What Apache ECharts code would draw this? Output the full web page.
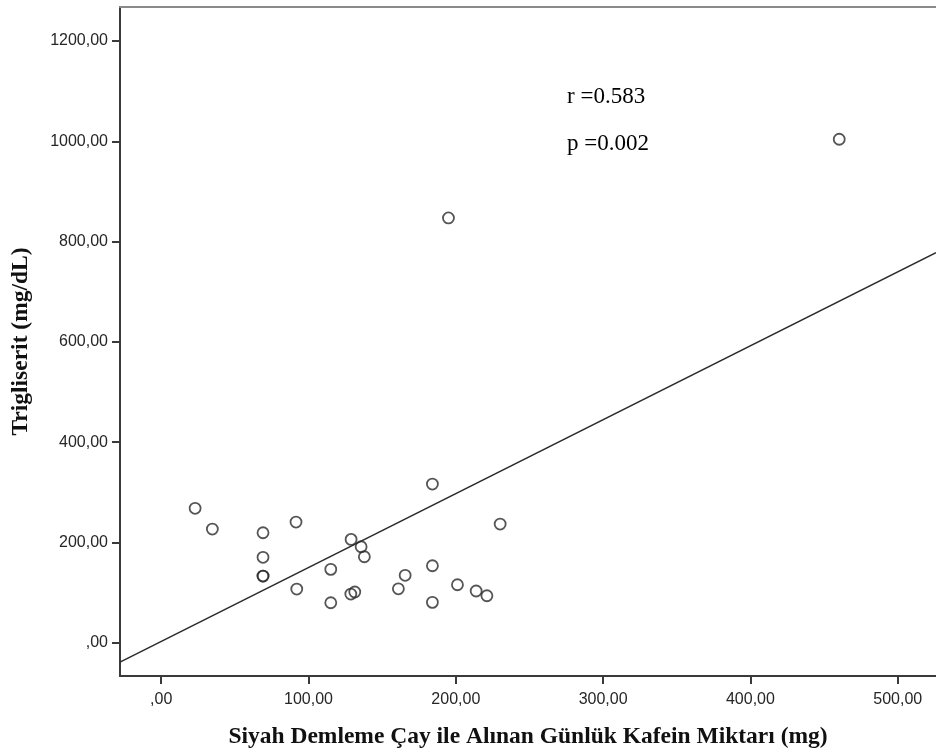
<!DOCTYPE html>
<html>
<head>
<meta charset="utf-8">
<script src="https://cdn.jsdelivr.net/npm/echarts@6/dist/echarts.min.js"></script>
<style>
  html, body { margin: 0; padding: 0; background: #fff; }
  #chart { width: 936px; height: 754px; }
</style>
</head>
<body>
<div id="chart"></div>
<script>
// Daily caffeine from brewed black tea (mg) and triglyceride (mg/dL), one pair per participant
const caffeineMg = [23, 34.7, 69.1, 69.1, 69.1, 69.1, 91.5, 92, 115.1, 115.1, 128.9, 135.7, 137.9,
  128.7, 131.4, 161, 165.6, 184.1, 184.1, 184.1, 195, 201.1, 213.8, 221.1, 230.1, 460.3];
const triglycerideMgDl = [268, 226.7, 219.3, 170.3, 133, 133, 240.6, 107, 146.3, 79.7, 206.1, 191.4, 171.5,
  97.1, 101.1, 107.5, 134.4, 316.4, 153.5, 80.5, 847.3, 115.6, 103.1, 93.7, 236.6, 1004.2];

const xTicks = [0, 100, 200, 300, 400, 500];
const yTicks = [0, 200, 400, 600, 800, 1000, 1200];
const xRange = [-28, 526];
const yRange = [-66.4, 1268];
const statLines = ['r =0.583', 'p =0.002'];

const xTitle = 'Siyah Demleme Çay ile Alınan Günlük Kafein Miktarı (mg)';
const yTitle = 'Trigliserit (mg/dL)';

// Ordinary least-squares fit line
function linearFit(xs, ys) {
  const n = xs.length;
  const mx = xs.reduce((a, b) => a + b, 0) / n;
  const my = ys.reduce((a, b) => a + b, 0) / n;
  let sxy = 0, sxx = 0;
  for (let i = 0; i < n; i++) {
    sxy += (xs[i] - mx) * (ys[i] - my);
    sxx += (xs[i] - mx) * (xs[i] - mx);
  }
  const slope = sxy / sxx;
  return { slope, intercept: my - slope * mx };
}
const fit = linearFit(caffeineMg, triglycerideMgDl);
const fitLine = xRange.map(x => [x, fit.intercept + fit.slope * x]);

const points = caffeineMg.map((x, i) => [x, triglycerideMgDl[i]]);
const commaFormat = v => (v === 0 ? '' : String(v)) + ',00';

const axisDark = '#3a3a3a';
const labelStyle = { fontFamily: 'Liberation Sans', fontSize: 16, color: '#262626' };
const titleStyle = { fontFamily: 'Liberation Serif', fontWeight: 'bold', fontSize: 23.5, color: '#111' };

const chart = echarts.init(document.getElementById('chart'));
chart.setOption({
  animation: false,
  backgroundColor: '#fff',
  grid: { left: 120, right: 0, top: 7, bottom: 78, containLabel: false },
  xAxis: [{
    type: 'value',
    position: 'bottom',
    min: xRange[0], max: xRange[1],
    axisLine: { show: true, onZero: false, lineStyle: { color: axisDark, width: 2 } },
    axisTick: { show: true, length: 8, customValues: xTicks, lineStyle: { color: axisDark, width: 2 } },
    axisLabel: { customValues: xTicks, formatter: commaFormat, margin: 16, ...labelStyle },
    splitLine: { show: false },
    name: xTitle,
    nameLocation: 'middle',
    nameGap: 49,
    nameTextStyle: titleStyle
  }, {
    type: 'value',
    position: 'top',
    min: xRange[0], max: xRange[1],
    axisLine: { show: true, onZero: false, lineStyle: { color: '#8a8a8a', width: 2 } },
    axisTick: { show: false },
    axisLabel: { show: false },
    splitLine: { show: false }
  }],
  yAxis: {
    type: 'value',
    min: yRange[0], max: yRange[1],
    axisLine: { show: true, onZero: false, lineStyle: { color: axisDark, width: 2 } },
    axisTick: { show: true, length: 8, customValues: yTicks, lineStyle: { color: axisDark, width: 2 } },
    axisLabel: { customValues: yTicks, formatter: commaFormat, margin: 12, ...labelStyle },
    splitLine: { show: false },
    name: yTitle,
    nameLocation: 'middle',
    nameGap: 87,
    nameTextStyle: titleStyle
  },
  graphic: statLines.map((t, i) => ({
    type: 'text',
    left: 567,
    top: 85 + i * 47,
    style: { text: t, font: '23px "Liberation Serif"', fill: '#000' }
  })),
  series: [{
    type: 'line',
    data: fitLine,
    symbol: 'none',
    clip: true,
    lineStyle: { color: '#2a2a2a', width: 1.5 },
    silent: true,
    z: 1
  }, {
    type: 'scatter',
    data: points,
    symbol: 'circle',
    symbolSize: 11,
    itemStyle: { color: 'rgba(255,255,255,0)', borderColor: '#2a2a2a', borderWidth: 1.8 },
    z: 2
  }]
});
</script>
</body>
</html>
